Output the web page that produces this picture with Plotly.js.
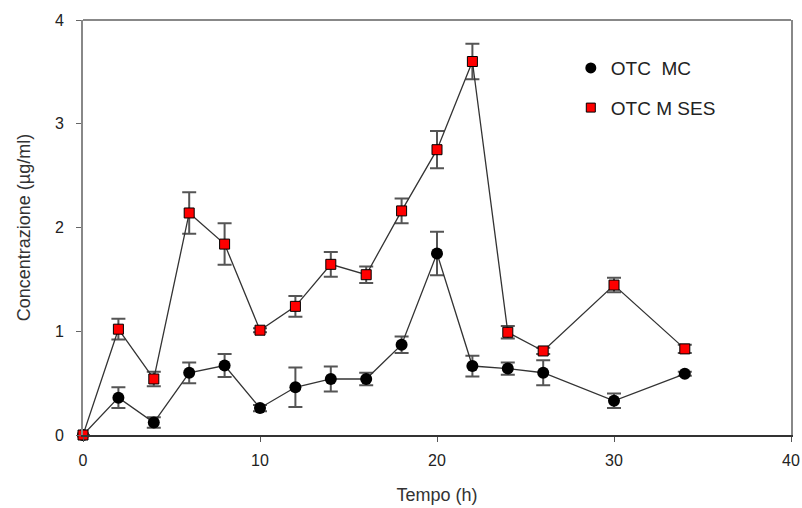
<!DOCTYPE html>
<html>
<head>
<meta charset="utf-8">
<script src="https://cdn.plot.ly/plotly-3.0.1.min.js"></script>
<style>html,body{margin:0;padding:0;background:#fff}#chart{width:802px;height:508px}</style>
</head>
<body>
<div id="chart"></div>
<script>
const tempo = [0, 2, 4, 6, 8, 10, 12, 14, 16, 18, 20, 22, 24, 26, 30, 34];
const mcValues = [0, 0.36, 0.12, 0.60, 0.67, 0.26, 0.46, 0.54, 0.54, 0.87, 1.75, 0.665, 0.64, 0.60, 0.33, 0.59];
const mcErrors = [0, 0.10, 0.05, 0.10, 0.11, 0.03, 0.19, 0.12, 0.06, 0.08, 0.21, 0.10, 0.06, 0.12, 0.07, 0.02];
const sesValues = [0, 1.02, 0.54, 2.14, 1.84, 1.01, 1.24, 1.645, 1.545, 2.16, 2.75, 3.60, 0.99, 0.81, 1.445, 0.83];
const sesErrors = [0, 0.10, 0.07, 0.20, 0.20, 0.02, 0.10, 0.12, 0.08, 0.12, 0.18, 0.17, 0.06, 0.03, 0.07, 0.04];
const seriesNames = ["OTC  MC", "OTC M SES"];

const font = "Liberation Sans, Arial, sans-serif";
const errStyle = {type: "data", visible: true, thickness: 2, width: 7, color: "#555"};

const traces = [
  {
    x: tempo, y: mcValues, mode: "lines+markers", name: seriesNames[0], showlegend: false,
    line: {color: "#333", width: 1.3},
    marker: {symbol: "circle", size: 12, color: "#000"},
    error_y: Object.assign({array: mcErrors}, errStyle),
    cliponaxis: false
  },
  {
    x: tempo, y: sesValues, mode: "lines+markers", name: seriesNames[1], showlegend: false,
    line: {color: "#333", width: 1.3},
    marker: {symbol: "square", size: 10, color: "#ff0000", line: {color: "#000", width: 1}},
    error_y: Object.assign({array: sesErrors}, errStyle),
    cliponaxis: false
  },
  {
    x: [null], y: [null], mode: "markers", name: seriesNames[0], showlegend: true, legendgroup: "a",
    marker: {symbol: "circle", size: 11, color: "#000"}
  },
  {
    x: [null], y: [null], mode: "markers", name: seriesNames[1], showlegend: true, legendgroup: "b",
    marker: {symbol: "square", size: 9, color: "#ff0000", line: {color: "#000", width: 1}}
  }
];

const layout = {
  width: 802, height: 508,
  margin: {l: 83, r: 11, t: 20, b: 73},
  paper_bgcolor: "#fff", plot_bgcolor: "#fff",
  font: {family: font, size: 16, color: "#222"},
  showlegend: true,
  legend: {
    x: 0.689, y: 0.93, xanchor: "left", yanchor: "top",
    bgcolor: "rgba(0,0,0,0)", font: {family: font, size: 19, color: "#222"},
    itemwidth: 30, tracegroupgap: 12
  },
  xaxis: {
    range: [0, 40], tickvals: [0, 10, 20, 30, 40], ticktext: ["0", "10", "20", "30", "40"],
    showgrid: false, zeroline: false, showline: true, linecolor: "#333", linewidth: 2,
    ticks: "outside", ticklen: 5, tickcolor: "#555", tickwidth: 1, ticklabelstandoff: 5,
    tickfont: {family: font, size: 16, color: "#222"},
    title: {text: "Tempo (h)", font: {family: font, size: 18, color: "#333"}, standoff: 20}
  },
  yaxis: {
    range: [0, 4], tickvals: [0, 1, 2, 3, 4], ticktext: ["0", "1", "2", "3", "4"],
    showgrid: false, zeroline: false, showline: true, linecolor: "#888", linewidth: 2, mirror: true,
    ticks: "outside", ticklen: 5, tickcolor: "#666", tickwidth: 1, ticklabelstandoff: 9,
    tickfont: {family: font, size: 16, color: "#222"},
    title: {text: "Concentrazione (µg/ml)", font: {family: font, size: 18, color: "#333"}, standoff: 20}
  },
  shapes: [
    {type: "line", xref: "paper", yref: "paper", x0: 0, x1: 1, y0: 1, y1: 1, line: {color: "#888", width: 2}}
  ]
};

Plotly.newPlot("chart", traces, layout, {displayModeBar: false, staticPlot: true});
</script>
</body>
</html>
